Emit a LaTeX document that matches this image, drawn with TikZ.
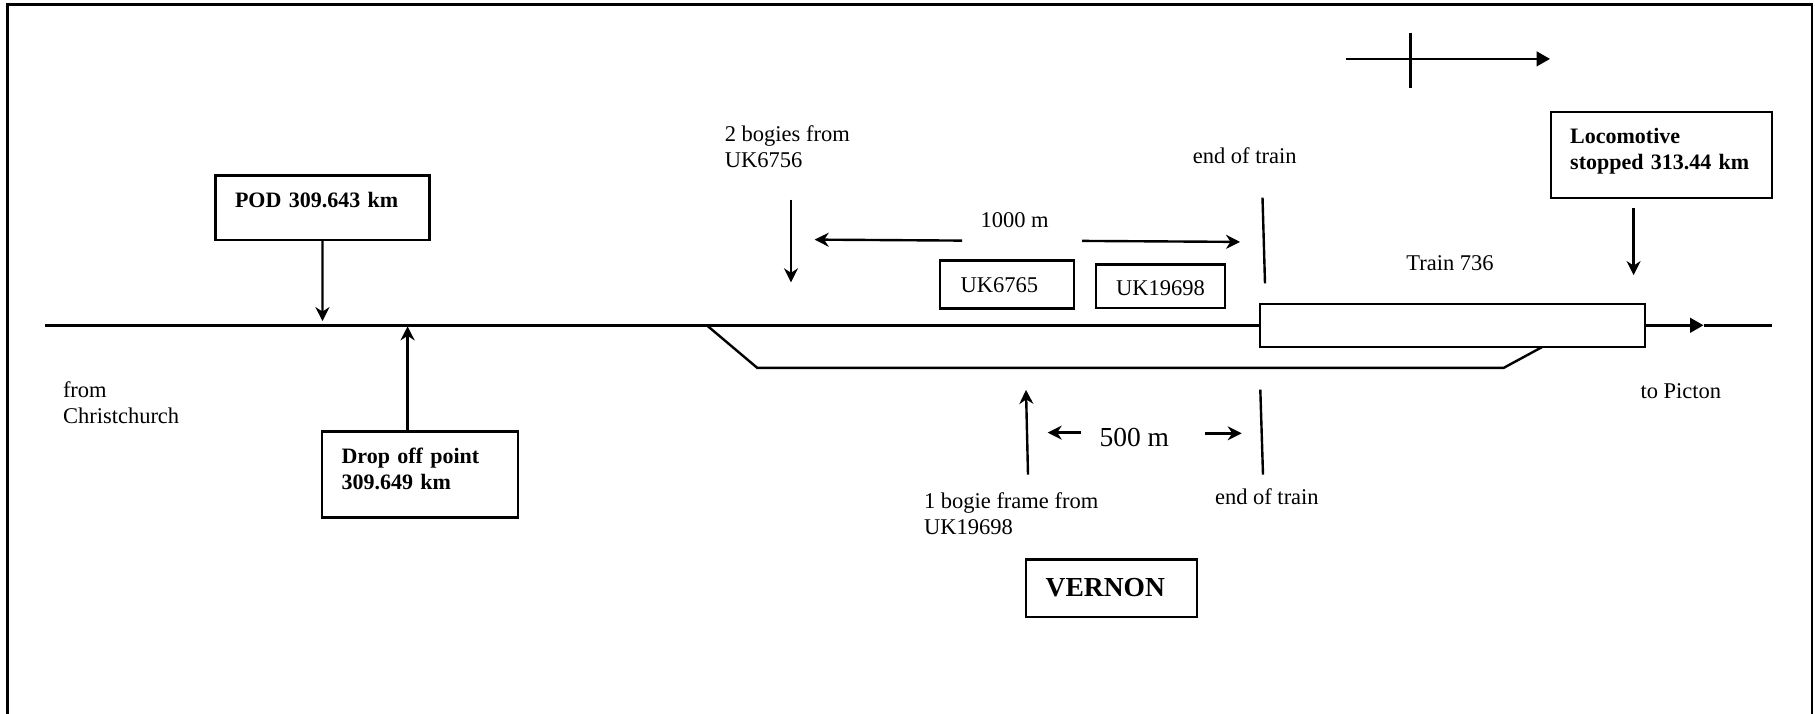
\documentclass[tikz,border=0pt]{standalone}
\usepackage{fontspec}
\setmainfont{Liberation Serif}
\usetikzlibrary{arrows.meta}
\tikzset{
  lbl/.style={inner sep=0pt,outer sep=0pt,anchor=base west,align=left,font=\fontsize{22.5}{26}\selectfont},
  biglbl/.style={inner sep=0pt,outer sep=0pt,anchor=base west,font=\fontsize{27.5}{32}\selectfont},
  boxn/.style={draw,line width=2.4pt,inner ysep=0pt,outer sep=0pt,anchor=north west,align=left,font=\fontsize{22.5}{26}\selectfont},
  boldt/.style={font=\fontsize{22}{26}\selectfont\bfseries},
  ln/.style={line width=2.4pt},
  arr/.style={line width=2.4pt,-{Stealth[length=14pt,width=14pt,inset=4.5pt]}},
  tri/.style={line width=2.4pt,-{Triangle[length=13.4pt,width=14.6pt]}}
}
\begin{document}
\begin{tikzpicture}[x=1pt,y=-1pt]
\useasboundingbox (0,0) rectangle (1815,713);
\begin{scope}[yshift=-0.6pt]
% frame (open at the bottom)
\coordinate (fbl) at (7.4,713);
\coordinate (ftl) at (7.4,4);
\coordinate (ftr) at (1812,4);
\coordinate (fbr) at (1812,713);
\draw[ln,line join=miter] (fbl) -- (ftl) -- (ftr) -- (fbr);
% boxes
\node[boxn,boldt,inner xsep=19.5pt,text width=175pt,text height=32pt,text depth=32.3pt] (pod) at (215.5,175) {POD 309.643 km};
\node[boxn,boldt,inner xsep=19.5pt,text width=157pt,text height=32pt,text depth=53.7pt] (drop) at (322,431) {Drop off point\\309.649 km};
\node[boxn,boldt,inner xsep=19.5pt,text width=182.3pt,text height=31.4pt,text depth=54.6pt] (loco) at (1550.7,111.3) {Locomotive\\stopped 313.44 km};
\node[boxn,inner xsep=20.5pt,text width=92.8pt,text height=32.3pt,text depth=15.7pt] (uka) at (940,260) {UK6765};
\node[boxn,inner xsep=20pt,text width=89pt,text height=31pt,text depth=12.3pt] (ukb) at (1096,264) {UK19698};
\node[boxn,inner xsep=20pt,text width=131.3pt,text height=37pt,text depth=20.3pt,font=\fontsize{27.5}{32}\selectfont\bfseries] (vernon) at (1025.7,559) {VERNON};
\node[boxn,text width=380.7pt,inner xsep=2pt,minimum height=43pt] (train) at (1260,303.3) {};
% main line
\coordinate (mainl) at (45,324.7);
\coordinate (mainr) at (1772,324.7);
\coordinate (maintip) at (1703.5,324.7);
\draw[ln] (mainl) -- (train.west |- mainl);
\draw[tri] (train.east |- mainl) -- (maintip);
\draw[ln] (maintip) -- (mainr);
% siding
\coordinate (sa) at (706.8,324.7);
\coordinate (sb) at (757.3,367.3);
\coordinate (sc) at (1503.6,367.3);
\coordinate (sd) at (1542,346.5);
\draw[ln,line join=miter] (sa) -- (sb) -- (sc) -- (sd);
% north arrow
\coordinate (na) at (1346,58.3);
\coordinate (nb) at (1550,58.3);
\coordinate (nc) at (1410.5,32);
\coordinate (nd) at (1410.5,87.7);
\draw[tri] (na) -- (nb);
\draw[ln] (nc) -- (nd);
% POD, drop-off and locomotive arrows
\coordinate (podtip) at (322.45,320.5);
\draw[arr] (pod.south) -- (podtip);
\coordinate (droptip) at (407.6,325.7);
\draw[arr,line width=3pt] (droptip |- drop.north) -- (droptip);
\coordinate (locos) at (1633.6,207.5);
\coordinate (locotip) at (1633.6,274.5);
\draw[arr] (locos) -- (locotip);
% bogies arrow
\coordinate (bogs) at (791,199);
\coordinate (bogt) at (791,281.7);
\draw[arr] (bogs) -- (bogt);
% 1000 m dimension
\coordinate (dal) at (962,240);
\coordinate (dat) at (814.7,239);
\coordinate (dbl) at (1082,240.3);
\coordinate (dbt) at (1240,241.3);
\draw[arr] (dal) -- (dat);
\draw[arr] (dbl) -- (dbt);
% end-of-train ticks
\coordinate (ta) at (1262.5,197);
\coordinate (tb) at (1265,282.7);
\draw[ln] (ta) -- (tb);
\coordinate (tc) at (1260.3,389);
\coordinate (td) at (1263,474);
\draw[ln] (tc) -- (td);
% bogie frame arrow
\coordinate (fs) at (1028,474);
\coordinate (ft) at (1026,389.3);
\draw[arr] (fs) -- (ft);
% 500 m dimension
\coordinate (eal) at (1081,432);
\coordinate (eat) at (1047.7,432);
\coordinate (ebl) at (1205,432.7);
\coordinate (ebt) at (1241.7,432.7);
\draw[arr] (eal) -- (eat);
\draw[arr] (ebl) -- (ebt);
% labels
\node[lbl] (from) at (63,423) {from\\Christchurch};
\node[lbl] (bogies) at (724.8,167) {2 bogies from\\UK6756};
\node[lbl] (km) at (980.5,227.3) {1000 m};
\node[lbl] (eot) at (1192.8,163.3) {end of train};
\node[lbl] (tn) at (1406.4,270) {Train 736};
\node[lbl] (pic) at (1640.5,398) {to Picton};
\node[biglbl] (half) at (1099.5,446) {500 m};
\node[lbl] (eotb) at (1215,504) {end of train};
\node[lbl] (frame) at (924,534) {1 bogie frame from\\UK19698};
\end{scope}
\end{tikzpicture}
\end{document}
